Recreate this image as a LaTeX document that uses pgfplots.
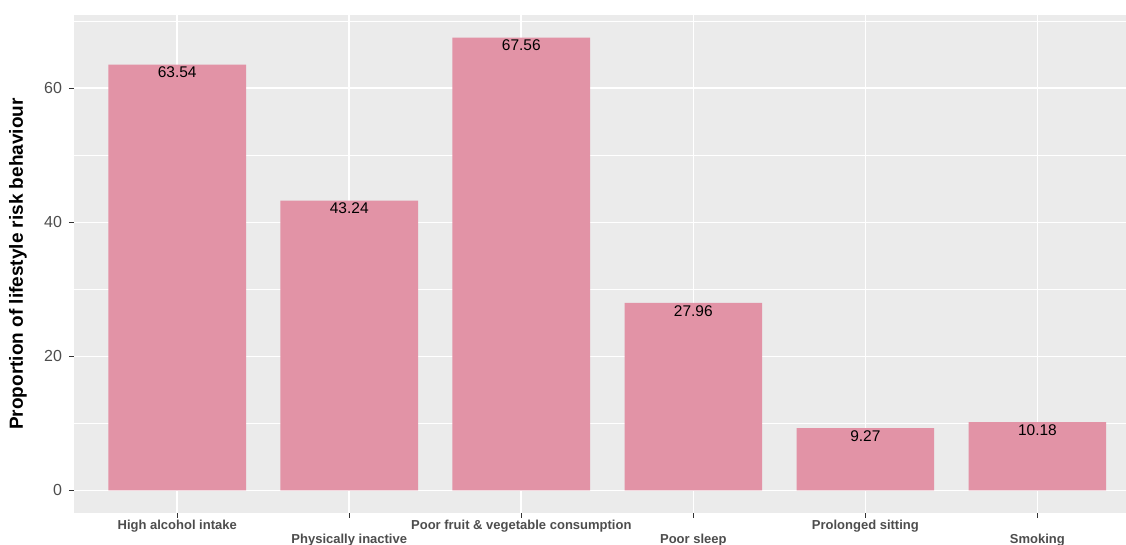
\documentclass[border=0pt]{standalone}
\usepackage{fontspec}
\setmainfont{Liberation Sans}
\usepackage{pgfplots}
\pgfplotsset{compat=1.18}
\definecolor{panel}{RGB}{235,235,235}
\definecolor{barpink}{RGB}{226,147,166}
\definecolor{grey30}{RGB}{77,77,77}
\definecolor{grey20}{RGB}{51,51,51}
\begin{document}
\begin{tikzpicture}
% 1px of the reference = 0.5pt
\useasboundingbox (-37pt,-16pt) rectangle (526pt,256.5pt);
\begin{axis}[
  scale only axis, width=526pt, height=249pt,
  xmin=0.4, xmax=6.515, ymin=-3.378, ymax=70.94,
  axis background/.style={fill=panel},
  axis line style={draw=none},
  tick pos=left,
  tick align=outside, major tick length=2.5pt, minor tick length=0pt,
  tick style={grey20, line width=0.5pt},
  ytick={0,20,40,60}, minor ytick={10,30,50,70},
  ymajorgrids, yminorgrids, xmajorgrids,
  major grid style={white, line width=0.8pt},
  minor grid style={white, line width=0.45pt},
  /pgf/number format/assume math mode=true,
  yticklabel style={font=\fontsize{8}{9}\selectfont, color=grey30},
  xtick={1,3,5},
  xticklabels={High alcohol intake, Poor fruit \& vegetable consumption, Prolonged sitting},
  extra x ticks={2,4,6},
  extra x tick labels={Physically inactive, Poor sleep, Smoking},
  extra x tick style={grid=major, xticklabel style={yshift=-7pt}},
  xticklabel style={font=\bfseries\fontsize{6.5}{7}\selectfont, color=grey30, yshift=2.5pt},
  ylabel={Proportion of lifestyle risk behaviour},
  ylabel style={font=\bfseries\fontsize{9.5}{11}\selectfont, at={(axis description cs:-0.0532,0.5)}, anchor=center},
]
\addplot[ybar, bar width=0.8, fill=barpink, draw=none,
  nodes near coords={\pgfmathprintnumber[fixed,fixed zerofill,precision=2]{\pgfplotspointmeta}},
  nodes near coords align={anchor=north},
  every node near coord/.append style={font=\fontsize{7.75}{9}\selectfont, black, inner sep=1pt}]
  coordinates {(1,63.54) (2,43.24) (3,67.56) (4,27.96) (5,9.27) (6,10.18)};
\end{axis}
\end{tikzpicture}
\end{document}
